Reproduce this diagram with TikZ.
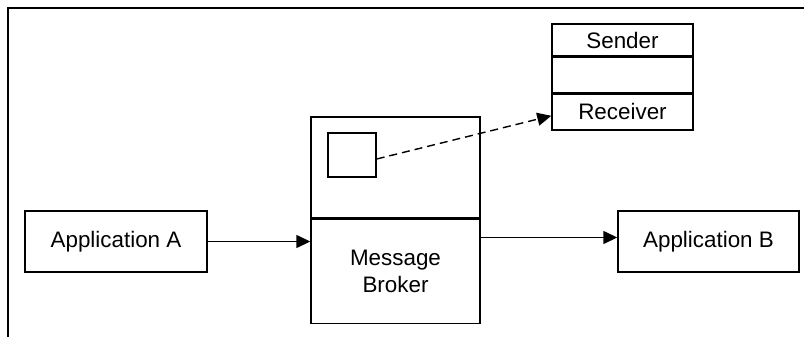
\documentclass[tikz,border=0pt]{standalone}
\usepackage{fontspec}
\setmainfont{Liberation Sans}
\usetikzlibrary{arrows.meta, positioning}

\begin{document}
\begin{tikzpicture}[x=0.5pt, y=-0.5pt, line width=0.7pt]
    \tikzstyle{box} = [rectangle, draw, inner sep=0pt, font=\fontsize{11.2}{13.5}\selectfont, align=center]
    \tikzstyle{arrow} = [-{Triangle[length=7pt, width=6.5pt]}]

    \useasboundingbox (0,0) rectangle (804,337);
    \draw (8,337) -- (8,8) -- (804,8);

    \node (appA) [box, minimum width=91pt, minimum height=30.5pt] at (116,241.5) {Application A};
    \node (brokertop) [box, minimum width=84.5pt, minimum height=50.5pt] at (395.5,167.5) {};
    \node (broker) [box, minimum width=84.5pt, minimum height=52pt, below=0pt of brokertop] {Message\\Broker};
    \node (queue) [box, minimum width=24pt, minimum height=22pt] at (352,155) {};
    \node (sender) [box, minimum width=70.5pt, minimum height=16pt] at (622.5,40) {Sender};
    \node (middle) [box, minimum width=70.5pt, minimum height=17.5pt, below=0pt of sender] {};
    \node (receiver) [box, minimum width=70.5pt, minimum height=18pt, below=0pt of middle] {Receiver};
    \node (appB) [box, minimum width=90.5pt, minimum height=30.5pt] at (708.5,241.5) {Application B};

    \draw [arrow] (appA.east) -- (appA.east -| broker.west);
    \draw [arrow] ([yshift=2pt]broker.east |- appB.west) -- ([yshift=2pt]appB.west);
    \draw [arrow, dash pattern=on 4pt off 2.5pt] ([yshift=-2pt]queue.east) -- ([yshift=-2pt]receiver.west);
\end{tikzpicture}
\end{document}
